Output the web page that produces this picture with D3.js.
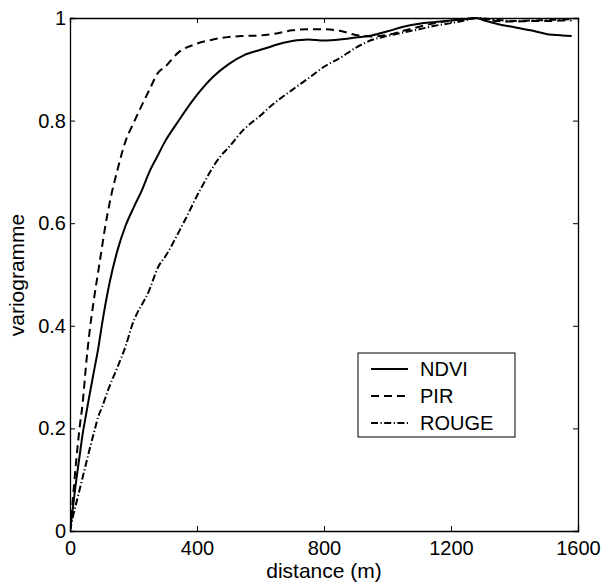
<!DOCTYPE html>
<html>
<head>
<meta charset="utf-8">
<script src="https://cdn.jsdelivr.net/npm/d3@7"></script>
<style>
  body { margin: 0; background: #fff; }
  svg { display: block; font-family: "Liberation Sans", Arial, Helvetica, sans-serif; }
</style>
</head>
<body>
<svg id="chart" width="605" height="586"></svg>
<script>
// ---- data ----
const distNDVI = [0,10,20,30,40,50,60,75,90,100,125,150,175,200,227,250,274,300,337,350,400,450,500,550,600,636,650,700,750,800,850,900,950,1000,1050,1100,1150,1200,1250,1280,1300,1350,1400,1450,1500,1550,1580];
const ndvi     = [0,0.05,0.10,0.145,0.19,0.225,0.26,0.31,0.36,0.40,0.485,0.548,0.595,0.63,0.665,0.70,0.729,0.76,0.795,0.807,0.85,0.885,0.91,0.928,0.938,0.945,0.948,0.955,0.958,0.956,0.958,0.962,0.966,0.974,0.983,0.989,0.992,0.995,0.998,1.0,0.996,0.988,0.982,0.976,0.969,0.966,0.965];

const distPIR = [0,10,20,30,40,50,60,75,90,100,110,125,150,175,200,250,277,300,340,400,450,500,550,600,650,700,750,800,850,900,950,1000,1050,1100,1150,1200,1250,1280,1300,1350,1400,1450,1500,1550,1580];
const pir     = [0,0.07,0.14,0.20,0.25,0.32,0.38,0.45,0.51,0.55,0.59,0.64,0.705,0.76,0.795,0.86,0.893,0.905,0.932,0.950,0.958,0.963,0.965,0.966,0.970,0.976,0.978,0.978,0.975,0.967,0.964,0.967,0.975,0.983,0.990,0.995,0.998,1.0,0.998,0.994,0.993,0.994,0.994,0.995,0.995];

const distROUGE = [0,10,20,30,40,50,60,79,90,100,120,150,175,195,250,278,300,357,410,472,500,546,600,630,700,750,800,850,900,950,1000,1050,1100,1150,1200,1250,1280,1300,1350,1400,1450,1500,1550,1580];
const rouge     = [0,0.03,0.055,0.08,0.105,0.13,0.155,0.2,0.225,0.24,0.275,0.32,0.36,0.40,0.47,0.515,0.535,0.60,0.665,0.729,0.748,0.782,0.81,0.827,0.860,0.882,0.905,0.922,0.942,0.957,0.965,0.972,0.978,0.985,0.990,0.996,1.0,0.999,0.996,0.994,0.995,0.996,0.997,0.998];

const xTicks = [0,400,800,1200,1600];
const yTicks = [0,0.2,0.4,0.6,0.8,1];
const yTickLabels = ["0","0.2","0.4","0.6","0.8","1"];
const seriesNames = ["NDVI","PIR","ROUGE"];

// ---- layout ----
const L = 70, R = 578, T = 18, B = 531;
const svg = d3.select("#chart");
const x = d3.scaleLinear().domain([0,1600]).range([L,R]);
const y = d3.scaleLinear().domain([0,1]).range([B,T]);

const series = [
  {name: seriesNames[0], d: distNDVI, v: ndvi, dash: null},
  {name: seriesNames[1], d: distPIR, v: pir, dash: "8,5"},
  {name: seriesNames[2], d: distROUGE, v: rouge, dash: "7,2.5,1.2,2.5"}
];

const line = d3.line().x(p => x(p[0])).y(p => y(p[1])).curve(d3.curveMonotoneX);

const g = svg.append("g");
g.append("defs").append("clipPath").attr("id","clip")
  .append("rect").attr("x",L).attr("y",T-3).attr("width",R-L).attr("height",B-T+3);

series.forEach(s => {
  g.append("path")
    .datum(s.d.map((dd,i) => [dd, s.v[i]]))
    .attr("d", line)
    .attr("fill","none")
    .attr("stroke","#000")
    .attr("stroke-width",2)
    .attr("stroke-dasharray", s.dash)
    .attr("clip-path","url(#clip)");
});

// axes (ticks inward)
const fs = 20;
const axB = d3.axisBottom(x).tickValues(xTicks).tickSize(-5).tickPadding(10).tickFormat(d3.format("d"));
const axT = d3.axisTop(x).tickValues(xTicks).tickSize(-5).tickFormat("");
const axLft = d3.axisLeft(y).tickValues(yTicks).tickSize(-5).tickPadding(4).tickFormat((d,i) => yTickLabels[i]);
const axRgt = d3.axisRight(y).tickValues(yTicks).tickSize(-5).tickFormat("");

function style(sel){
  sel.selectAll(".domain").attr("stroke","#000").attr("stroke-width",1.3);
  sel.selectAll(".tick line").attr("stroke","#000").attr("stroke-width",1);
  sel.selectAll("text").attr("font-size",fs).attr("fill","#000")
    .attr("font-family",'"Liberation Sans", Arial, Helvetica, sans-serif');
}
g.append("g").attr("transform",`translate(0,${B})`).call(axB).call(style);
g.append("g").attr("transform",`translate(0,${T})`).call(axT).call(style);
g.append("g").attr("transform",`translate(${L},0)`).call(axLft).call(style);
g.append("g").attr("transform",`translate(${R},0)`).call(axRgt).call(style);

// axis labels
svg.append("text").attr("x",(L+R)/2).attr("y",578).attr("text-anchor","middle")
  .attr("font-size",21).text("distance (m)");
svg.append("text").attr("transform",`translate(23.5,275) rotate(-90)`)
  .attr("text-anchor","middle").attr("font-size",21).text("variogramme");

// legend
const lg = svg.append("g");
lg.append("rect").attr("x",358).attr("y",353).attr("width",157).attr("height",84)
  .attr("fill","#fff").attr("stroke","#000").attr("stroke-width",1);
series.forEach((s,i) => {
  const yy = 369 + i*27;
  lg.append("line").attr("x1",371).attr("x2",408).attr("y1",yy).attr("y2",yy)
    .attr("stroke","#000").attr("stroke-width",2).attr("stroke-dasharray",s.dash);
  lg.append("text").attr("x",420).attr("y",yy).attr("dy","0.36em")
    .attr("font-size",fs).text(s.name);
});
</script>
</body>
</html>
